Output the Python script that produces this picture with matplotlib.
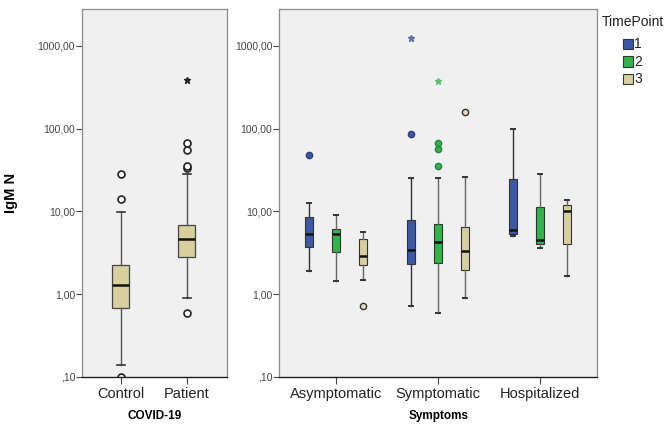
import matplotlib
matplotlib.use('Agg')
import matplotlib.pyplot as plt
from matplotlib.patches import Rectangle
from matplotlib.ticker import FixedLocator, NullLocator

plt.rcParams['font.family'] = ['Liberation Sans', 'DejaVu Sans']

# ---------------- data ----------------
covid_groups = ['Control', 'Patient']
covid_whislo = [0.14, 0.91]
covid_q1 = [0.69, 2.8]
covid_med = [1.28, 4.6]
covid_q3 = [2.24, 6.9]
covid_whishi = [9.8, 28.5]
covid_outliers = [[0.1, 14.3, 28.0], [0.59, 34.0, 35.0, 56.0, 67.0]]
covid_extremes = [[], [390.0]]

symptom_groups = ['Asymptomatic', 'Symptomatic', 'Hospitalized']
timepoints = ['1', '2', '3']
tp_whislo = [[1.89, 0.72, 5.1], [1.45, 0.60, 3.65], [1.49, 0.90, 1.65]]
tp_q1 = [[3.7, 2.3, 5.3], [3.2, 2.4, 4.0], [2.25, 1.96, 4.08]]
tp_med = [[5.4, 3.39, 5.9], [5.3, 4.3, 4.5], [2.87, 3.3, 10.2]]
tp_q3 = [[8.6, 7.85, 24.7], [6.2, 7.0, 11.3], [4.6, 6.5, 11.9]]
tp_whishi = [[12.5, 25.2, 98.0], [8.95, 25.2, 28.2], [5.7, 26.4, 13.6]]
tp_outliers = [[[48.6], [86.0], []], [[], [35.8, 57.0, 67.0], []], [[0.72], [160.0], []]]
tp_extremes = [[[], [1240.0], []], [[], [382.0], []], [[], [], []]]

ytick_values = [0.1, 1, 10, 100, 1000]
ytick_labels = [',10', '1,00', '10,00', '100,00', '1000,00']

tp_colors = ['#3c58a8', '#33b44a', '#d8cf9e']
tp_flier_face = ['#3c58a8', '#33b44a', '#e4ddb8']
tp_flier_edge = ['#2a3f80', '#23843a', '#333333']
tp_star = ['#5a6fb0', '#5cc06a', '#d8cf9e']
covid_color = '#d8cf9e'
bg = '#f0f0f0'

# ---------------- figure ----------------
fig = plt.figure(figsize=(6.72, 4.25), dpi=100)
ax1 = fig.add_axes([82/672, 1-377/425, 145/672, (377-9.3)/425])
ax2 = fig.add_axes([279.3/672, 1-377/425, 317.7/672, (377-9.3)/425])

def style_axis(ax):
    ax.set_facecolor(bg)
    ax.set_yscale('log')
    ax.set_ylim(0.1, 2775)
    ax.yaxis.set_major_locator(FixedLocator(ytick_values))
    ax.yaxis.set_minor_locator(NullLocator())
    ax.set_yticklabels(ytick_labels)
    ax.tick_params(axis='y', labelsize=7.5, labelcolor='#444444', color='#444444',
                   length=4, width=0.8, direction='out', pad=1)
    ax.tick_params(axis='x', labelsize=10.5, labelcolor='#222222', color='#444444',
                   length=5, width=0.8, direction='out', pad=2)
    for s in ['left', 'top', 'right']:
        ax.spines[s].set_color('#8a8a8a')
        ax.spines[s].set_linewidth(0.9)
    ax.spines['bottom'].set_color('#222222')
    ax.spines['bottom'].set_linewidth(1.0)

def make_stats(wl, q1, med, q3, wh, fl):
    return dict(whislo=wl, q1=q1, med=med, q3=q3, whishi=wh, fliers=fl)

# ---- left panel ----
style_axis(ax1)
stats = [make_stats(covid_whislo[i], covid_q1[i], covid_med[i], covid_q3[i],
                    covid_whishi[i], covid_outliers[i]) for i in range(len(covid_groups))]
pos1 = list(range(len(covid_groups)))
ax1.bxp(stats, positions=pos1, widths=0.25, capwidths=0.12, patch_artist=True,
        boxprops=dict(facecolor=covid_color, edgecolor='#444444', linewidth=0.9),
        medianprops=dict(color='#111111', linewidth=1.8),
        whiskerprops=dict(color='#555555', linewidth=1.0),
        capprops=dict(color='#333333', linewidth=1.2),
        flierprops=dict(marker='o', markersize=5, markerfacecolor='white',
                        markeredgecolor='#222222', markeredgewidth=1.2, linestyle='none'))
for i, ext in enumerate(covid_extremes):
    if ext:
        ax1.plot([pos1[i]] * len(ext), ext, linestyle='none', marker='*',
                 markersize=4.5, color='#222222')
ax1.set_xlim(-0.586, 1.61)
ax1.set_xticks(pos1)
ax1.set_xticklabels(covid_groups)
ax1.set_xlabel('COVID-19', fontsize=8.5, fontweight='bold', labelpad=7)
ax1.set_ylabel('IgM N', fontsize=10.5, fontweight='bold')
ax1.yaxis.set_label_coords(-0.44, 0.5)

# ---- right panel ----
style_axis(ax2)
offsets = [-0.265, 0.0, 0.265]
pos2 = list(range(len(symptom_groups)))
for t in range(len(timepoints)):
    st = [make_stats(tp_whislo[t][g], tp_q1[t][g], tp_med[t][g], tp_q3[t][g],
                     tp_whishi[t][g], tp_outliers[t][g]) for g in range(len(symptom_groups))]
    pp = [p + offsets[t] for p in pos2]
    wcol = '#333333' if t == 0 else '#666666'
    ax2.bxp(st, positions=pp, widths=0.075, capwidths=0.04, patch_artist=True,
            boxprops=dict(facecolor=tp_colors[t], edgecolor='#333333', linewidth=0.8),
            medianprops=dict(color='#111111', linewidth=1.8),
            whiskerprops=dict(color=wcol, linewidth=1.0),
            capprops=dict(color='#333333', linewidth=1.4),
            flierprops=dict(marker='o', markersize=4.5, markerfacecolor=tp_flier_face[t],
                            markeredgecolor=tp_flier_edge[t], markeredgewidth=1.0,
                            linestyle='none'))
    for g in range(len(symptom_groups)):
        ext = tp_extremes[t][g]
        if ext:
            ax2.plot([pp[g]] * len(ext), ext, linestyle='none', marker='*',
                     markersize=4.5, color=tp_star[t])
ax2.set_xlim(-0.556, 2.56)
ax2.set_xticks(pos2)
ax2.set_xticklabels(symptom_groups)
ax2.set_xlabel('Symptoms', fontsize=8.5, fontweight='bold', labelpad=7)

# ---- legend ----
fig.text(602/672, 1-22/425, 'TimePoint', fontsize=10, color='#222222',
         ha='left', va='center')
for i, lab in enumerate(timepoints):
    yc = 44 + i * 17.5
    fig.patches.append(Rectangle((623/672, 1-(yc+5)/425), 10/672, 10/425,
                                 transform=fig.transFigure, facecolor=tp_colors[i],
                                 edgecolor='#333333', linewidth=0.8))
    fig.text(634/672, 1-yc/425, lab, fontsize=10, color='#222222',
             ha='left', va='center')

fig.savefig('out.png', dpi=100, facecolor='white')
